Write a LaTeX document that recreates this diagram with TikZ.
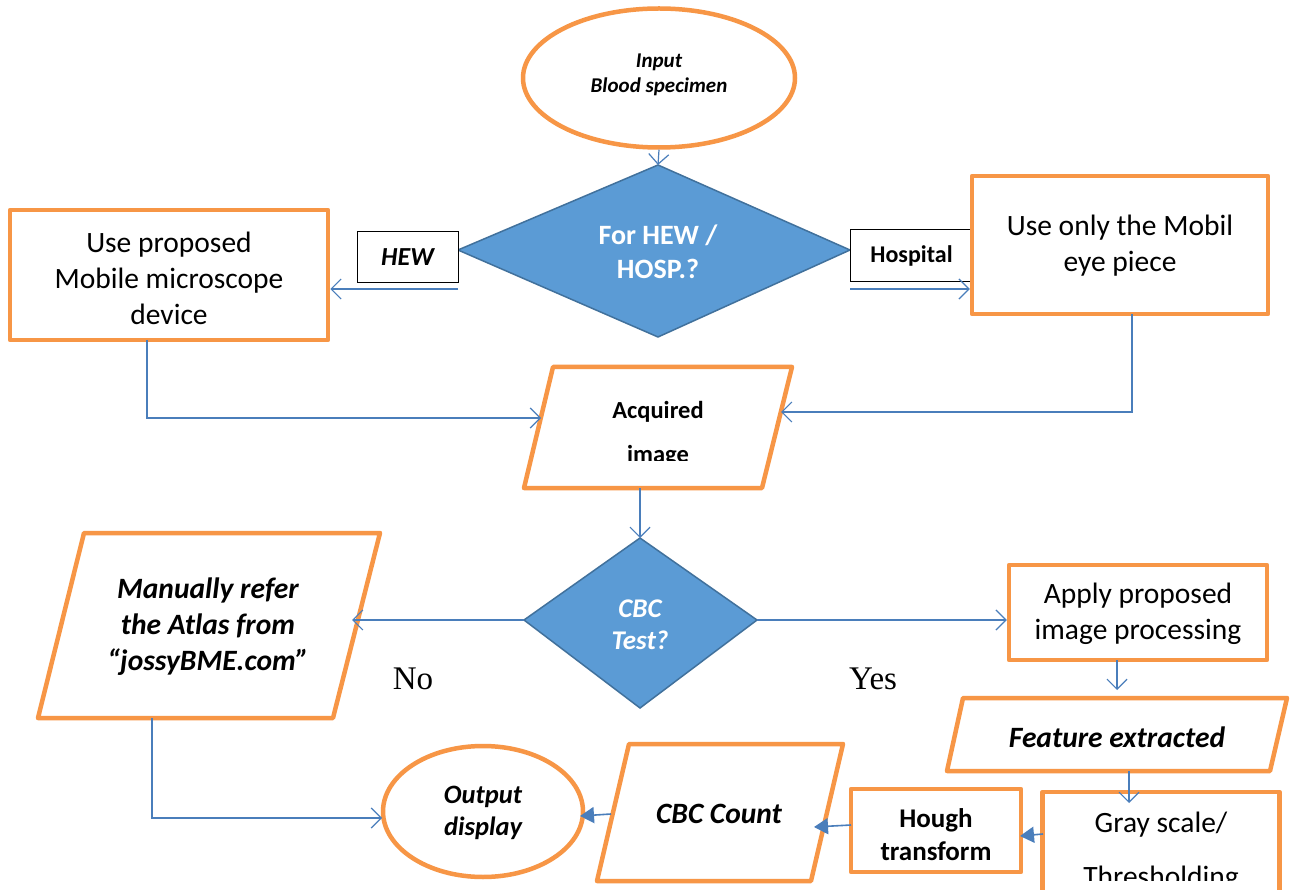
\documentclass[tikz,border=0pt]{standalone}
\usepackage{fontspec}
\setmainfont{Carlito}
\newfontfamily\tnr{Liberation Serif}
\usetikzlibrary{arrows.meta,shapes.geometric}
\definecolor{borange}{HTML}{F79646}
\definecolor{cblue}{HTML}{4A7EBB}
\definecolor{dfill}{HTML}{5B9BD5}
\definecolor{dline}{HTML}{41719C}
\begin{document}
\begin{tikzpicture}[x=1pt,y=-1pt,
  obox/.style={draw=borange,line width=4.5pt,line join=round,fill=white},
  dshape/.style={draw=dline,line width=1.5pt,fill=dfill,line join=miter},
  lbl/.style={draw=black,line width=1pt,fill=white,inner sep=0pt,font=\fontsize{24}{26}\selectfont\bfseries},
  conn/.style={draw=cblue,line width=1.2pt,-{Straight Barb[length=10pt,width=20pt,line width=1.2pt]}},
  fconn/.style={draw=cblue,line width=1.6pt,-{Triangle[length=14pt,width=16pt]}},
  txt/.style={align=center,inner sep=0pt,font=\fontsize{29.5}{36}\selectfont},
  bi/.style={align=center,inner sep=0pt,font=\fontsize{29.5}{36}\selectfont\bfseries\itshape},
  yn/.style={inner sep=0pt,font=\tnr\fontsize{33}{36}\selectfont}]
\useasboundingbox (0,0) rectangle (1296,890);
\fill[white] (0,0) rectangle (1296,890);

% Input ellipse
\node[obox,ellipse,minimum width=272pt,minimum height=139pt,inner sep=0pt] (inpshape) at (659,78) {};
\node[align=center,inner sep=0pt,font=\fontsize{21}{25}\selectfont\bfseries\itshape] (inp) at (659,75) {Input\\Blood specimen};

% Decision 1
\coordinate (d1t) at (658,165);
\coordinate (d1r) at (850,250);
\coordinate (d1b) at (658,337);
\coordinate (d1l) at (458,250);
\draw[dshape] (d1t) -- (d1r) -- (d1b) -- (d1l) -- cycle;
\node[align=center,inner sep=0pt,text=white,font=\fontsize{28}{34}\selectfont\bfseries] (d1) at (658,252) {For HEW /\\HOSP.?};
\draw[conn] (inpshape.south) -- (d1t);

% labels
\node[lbl,minimum width=101pt,minimum height=51pt,font=\fontsize{26}{26}\selectfont\bfseries\itshape] (hew) at (407.5,257) {HEW};
\node[lbl,minimum width=123pt,minimum height=52pt] (hosp) at (911.5,256) {Hospital};

% side boxes
\node[obox,minimum width=318pt,minimum height=130pt,inner sep=0pt] (lbox) at (169,275) {};
\node[txt] (ltext) at (169,278) {Use proposed\\Mobile microscope\\device};
\node[obox,minimum width=296pt,minimum height=138pt,inner sep=0pt] (rbox) at (1120,245) {};
\node[txt] (rtext) at (1120,246) {Use only the Mobil\\eye piece};

\coordinate (hewa) at (458,289);
\coordinate (hospa) at (850,289);
\draw[conn] (hewa) -- (hewa -| lbox.east);
\draw[conn] (hospa) -- (hospa -| rbox.west);

% Acquired image
\coordinate (a1) at (553,367);
\coordinate (a2) at (792,367);
\coordinate (a3) at (762,488);
\coordinate (a4) at (524,488);
\draw[obox] (a1) -- (a2) -- (a3) -- (a4) -- cycle;
\coordinate (acqL) at (541,418);
\coordinate (acqR) at (781,412);
\coordinate (acqB) at (640,488);
\node[inner sep=0pt,anchor=base,font=\fontsize{24.5}{26}\selectfont\bfseries] (acq) at (658,419) {Acquired};
\begin{scope}
\clip (560,380) rectangle (760,460);
\node[inner sep=0pt,anchor=base,font=\fontsize{24.5}{26}\selectfont\bfseries] (acq2) at (658,462) {image};
\end{scope}

\coordinate (lb) at (147,340);
\coordinate (rb) at (1132,314);
\draw[conn] (lb) |- (acqL);
\draw[conn] (rb) |- (acqR);

% CBC decision
\coordinate (d2t) at (640,538);
\coordinate (d2r) at (757,620);
\coordinate (d2b) at (640,708);
\coordinate (d2l) at (524,620);
\draw[dshape] (d2t) -- (d2r) -- (d2b) -- (d2l) -- cycle;
\node[align=center,inner sep=0pt,text=white,font=\fontsize{27}{32}\selectfont\bfseries\itshape] (d2) at (640,625) {CBC\\Test?};
\draw[conn] (acqB) -- (d2t);

% Manually parallelogram
\coordinate (m1) at (84,533);
\coordinate (m2) at (380,533);
\coordinate (m3) at (333,718);
\coordinate (m4) at (38,718);
\draw[obox] (m1) -- (m2) -- (m3) -- (m4) -- cycle;
\node[bi] (man) at (208,627) {Manually refer\\the Atlas from\\``jossyBME.com''};
\coordinate (manR) at (352,620);
\coordinate (manB) at (152,718);
\draw[conn] (d2l) -- (manR);

% Apply box
\node[obox,minimum width=258pt,minimum height=95pt,inner sep=0pt] (apply) at (1138,612.5) {};
\node[txt] (applyt) at (1138,614) {Apply proposed\\image processing};
\draw[conn] (d2r) -- (d2r -| apply.west);

\node[yn] (no) at (413,679) {No};
\node[yn] (yes) at (873,679) {Yes};

% Feature extracted
\coordinate (f1) at (963,698);
\coordinate (f2) at (1287,698);
\coordinate (f3) at (1270,771);
\coordinate (f4) at (947,771);
\draw[obox] (f1) -- (f2) -- (f3) -- (f4) -- cycle;
\node[bi] (feat) at (1117,737) {Feature extracted};
\coordinate (applyB) at (1117,660);
\coordinate (featT) at (1117,690);
\draw[conn] (applyB) -- (featT);

% Gray scale box
\node[obox,minimum width=237pt,minimum height=130pt,inner sep=0pt] (gray) at (1161,857) {};
\node[txt,anchor=base] (grayt) at (1161,832) {Gray scale/};
\begin{scope}
\clip (1050,800) rectangle (1270,880);
\node[txt,anchor=base] (grayt2) at (1161,886) {Thresholding};
\end{scope}
\coordinate (featB) at (1129,771);
\coordinate (grayT) at (1129,803);
\draw[conn] (featB) -- (grayT);

% Hough box
\node[obox,minimum width=170pt,minimum height=83pt,inner sep=0pt] (hough) at (936,830.5) {};
\node[align=center,inner sep=0pt,font=\fontsize{27}{33}\selectfont\bfseries] (hought) at (936,835) {Hough\\transform};
\coordinate (grayL) at (1043,834);
\coordinate (houghR) at (1020,836);
\draw[fconn] (grayL) -- (houghR);

% CBC Count
\coordinate (c1) at (629,744);
\coordinate (c2) at (843,744);
\coordinate (c3) at (811,881);
\coordinate (c4) at (597,881);
\draw[obox] (c1) -- (c2) -- (c3) -- (c4) -- cycle;
\node[bi] (cbc) at (719,814) {CBC Count};
\coordinate (houghL) at (851,825);
\coordinate (cbcR) at (814,827);
\draw[fconn] (houghL) -- (cbcR);

% Output ellipse
\node[obox,ellipse,minimum width=200pt,minimum height=131pt,inner sep=0pt] (outshape) at (483,811.5) {};
\node[align=center,inner sep=0pt,font=\fontsize{26.5}{32}\selectfont\bfseries\itshape] (outt) at (483,813) {Output\\display};
\coordinate (cbcL) at (611,814);
\coordinate (outR) at (580,816);
\draw[fconn] (cbcL) -- (outR);

\coordinate (outL) at (382,818);
\draw[conn] (manB) |- (outL);
\end{tikzpicture}
\end{document}
